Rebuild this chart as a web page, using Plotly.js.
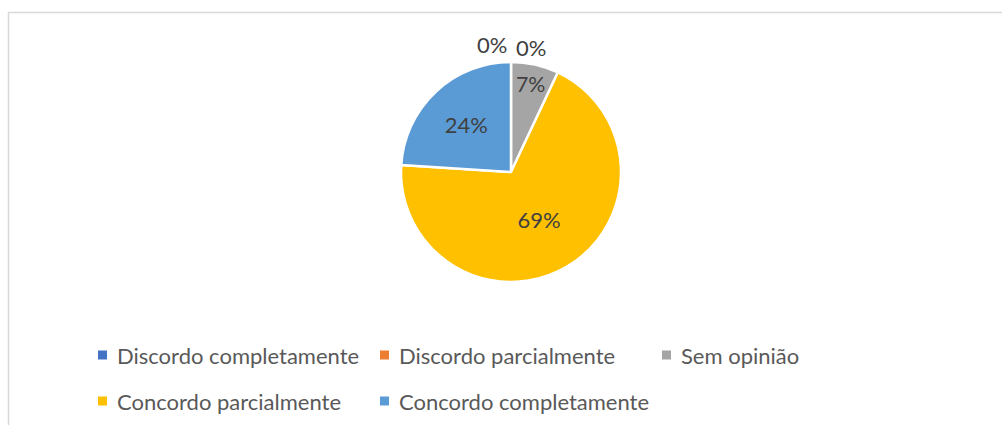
<!DOCTYPE html>
<html>
<head>
<meta charset="utf-8">
<script src="https://cdn.plot.ly/plotly-3.0.1.min.js"></script>
<style>html,body{margin:0;padding:0;background:#fff;}#chart{width:1002px;height:425px;}</style>
</head>
<body>
<div id="chart"></div>
<script>
const categories = ["Discordo completamente", "Discordo parcialmente", "Sem opinião", "Concordo parcialmente", "Concordo completamente"];
const percentValues = [0, 0, 7, 69, 24];
const sliceColors = ["#4472C4", "#ED7D31", "#A5A5A5", "#FFC000", "#5B9BD5"];

const W = 1002, H = 425;
const cx = 511, cy = 172, r = 110;
const FONT = "Lato, 'Open Sans', 'Liberation Sans', sans-serif";
const FS = 22;

// zero-value slices get their labels placed outside, above the pie top
const labelPositions = percentValues.map(v => v === 0 ? "none" : "inside");

const trace = {
  type: "pie",
  labels: categories,
  values: percentValues,
  sort: false,
  direction: "clockwise",
  rotation: 0,
  marker: { colors: sliceColors, line: { color: "#ffffff", width: 2.5 } },
  texttemplate: "%{value}%",
  textinfo: "text",
  textposition: labelPositions,
  insidetextorientation: "horizontal",
  textfont: { family: FONT, size: FS, color: "#404040" },
  domain: { x: [(cx - r) / W, (cx + r) / W], y: [(H - cy - r) / H, (H - cy + r) / H] },
  automargin: false,
  hoverinfo: "label+value",
  showlegend: false
};

// layout positions for the outside labels of zero slices (left / right of 12 o'clock)
const zeroLabelOffsets = [[-19, -127], [20, -125]];
const annotations = [];
let zi = 0;
percentValues.forEach((v, i) => {
  if (v === 0 && zi < zeroLabelOffsets.length) {
    const [dx, dy] = zeroLabelOffsets[zi++];
    annotations.push({
      xref: "paper", yref: "paper",
      x: (cx + dx) / W, y: (H - (cy + dy)) / H,
      xanchor: "center", yanchor: "middle",
      text: v + "%", showarrow: false,
      font: { family: FONT, size: FS, color: "#404040" }
    });
  }
});

// legend built from the category / colour arrays
const legendCols = [98, 380, 662];
const legendRows = [355, 401];
const shapes = [{
  type: "rect", xref: "paper", yref: "paper",
  x0: 8.5 / W, x1: 1.05, y0: -0.1, y1: (H - 12.5) / H,
  line: { color: "#d9d9d9", width: 1.5 }, fillcolor: "rgba(0,0,0,0)"
}];
categories.forEach((name, i) => {
  const col = i % 3, row = Math.floor(i / 3);
  const lx = legendCols[col], ly = legendRows[row];
  shapes.push({
    type: "rect", xref: "paper", yref: "paper",
    x0: lx / W, x1: (lx + 9) / W, y0: (H - (ly + 4.5)) / H, y1: (H - (ly - 4.5)) / H,
    line: { width: 0 }, fillcolor: sliceColors[i]
  });
  annotations.push({
    xref: "paper", yref: "paper",
    x: (lx + 17) / W, y: (H - ly) / H,
    xanchor: "left", yanchor: "middle",
    text: name, showarrow: false,
    font: { family: FONT, size: FS, color: "#595959" }
  });
});

const layout = {
  width: W, height: H,
  margin: { l: 0, r: 0, t: 0, b: 0 },
  paper_bgcolor: "#ffffff",
  font: { family: FONT, color: "#595959" },
  showlegend: false,
  shapes: shapes,
  annotations: annotations
};

Plotly.newPlot("chart", [trace], layout, { displayModeBar: false, staticPlot: true });
</script>
</body>
</html>
